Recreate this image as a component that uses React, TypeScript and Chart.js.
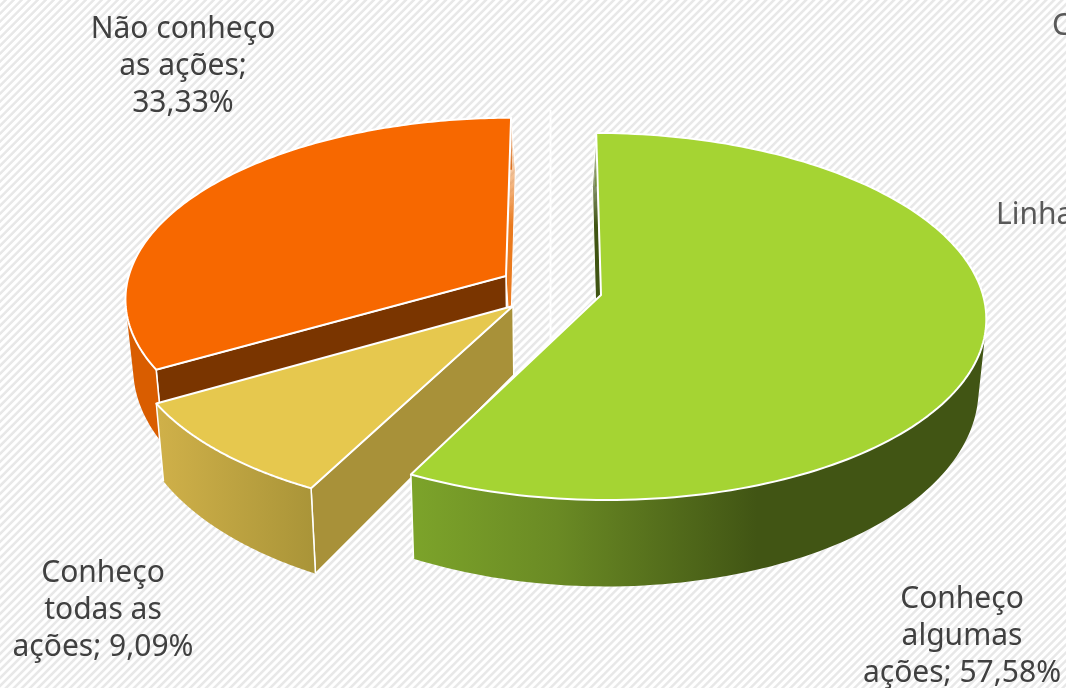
import React, { useEffect, useRef } from "react";
import { Chart, registerables, PieController } from "chart.js";

Chart.register(...registerables);

const categories = ["Conheço algumas ações", "Conheço todas as ações", "Não conheço as ações"];
const shares = [57.58, 9.09, 33.33];
const topColors = ["#a5d433", "#e6c84e", "#f76800"];
const labelLines = [
  ["Conheço", "algumas", "ações; 57,58%"],
  ["Conheço", "todas as", "ações; 9,09%"],
  ["Não conheço", "as ações;", "33,33%"],
];

const W = 1066;
const H = 688;
// projection of the pie plane on the screen
const CX = 555, CY = 295, RX = 382, RY = 181, PERSP = 0.117, SHRINK = 0.982;
const apexes = [[601, 295], [513, 306], [506, 276]];
const labelAt = [[962, 599], [103, 573], [183, 29]];
const FONT = '30px "Noto Sans"';

const project = (px: number, py: number) => {
  const w = 1 - PERSP * py;
  return [CX + (RX * px) / w, CY + (RY * py) / w];
};
const planeOf = (sx: number, sy: number) => {
  const t = (sy - CY) / RY;
  const py = t / (1 + PERSP * t);
  const w = 1 - PERSP * py;
  return [((sx - CX) * w) / RX, py];
};
const drop = (p: number[]) => {
  const d = 69 + (p[1] - 306) * 0.09;
  return [CX + (p[0] - CX) * SHRINK, p[1] + d];
};
const poly = (ctx: CanvasRenderingContext2D, pts: number[][]) => {
  ctx.beginPath();
  pts.forEach((p, i) => (i ? ctx.lineTo(p[0], p[1]) : ctx.moveTo(p[0], p[1])));
  ctx.closePath();
};

class Pie3DController extends PieController {
  static id = "pie3d";
  static defaults = {};
  draw() {
    const ctx = this.chart.ctx;
    const arcs = this.getMeta().data as any[];
    const order = [2, 1, 0];
    const stroke = (w: number) => {
      ctx.strokeStyle = "#ffffff";
      ctx.lineWidth = w;
      ctx.lineJoin = "round";
      ctx.stroke();
    };
    const seg = (p: number[], q: number[]) => {
      ctx.beginPath();
      ctx.moveTo(p[0], p[1]);
      ctx.lineTo(q[0], q[1]);
      stroke(1.5);
    };
    const fade = (from: string, to: string) => {
      const g = ctx.createLinearGradient(0, 145, 0, 225);
      g.addColorStop(0, from);
      g.addColorStop(1, to);
      return g;
    };
    for (const i of order) {
      const a = arcs[i];
      const start = a.startAngle as number;
      const end = a.endAngle as number;
      const o = planeOf(apexes[i][0], apexes[i][1]);
      const rim: number[][] = [];
      const N = 160;
      for (let k = 0; k <= N; k++) {
        const t = start + ((end - start) * k) / N;
        rim.push(project(o[0] + Math.cos(t), o[1] + Math.sin(t)));
      }
      const apex = project(o[0], o[1]);
      const first = rim[0];
      const last = rim[N];
      const lean = (p: number[], dx: number) => {
        const q = drop(p);
        return [q[0] + dx, q[1]];
      };
      // back cut faces
      if (i === 2) {
        poly(ctx, [apex, last, lean(last, 3.5), lean(apex, 3.5)]);
        ctx.fillStyle = fade("rgba(240,150,70,0.25)", "#ea7a1e");
        ctx.fill();
        stroke(1);
      } else if (i === 0) {
        poly(ctx, [apex, first, lean(first, -3), lean(apex, -3)]);
        ctx.fillStyle = fade("rgba(63,84,18,0.2)", "#3f5412");
        ctx.fill();
        stroke(1);
      }
      // front cut face
      if (i === 2) {
        poly(ctx, [apex, first, drop(first), drop(apex)]);
        ctx.fillStyle = "#7a3500";
        ctx.fill();
        stroke(1.5);
      } else if (i === 1) {
        poly(ctx, [apex, first, drop(first), drop(apex)]);
        ctx.fillStyle = "#a89139";
        ctx.fill();
        stroke(1.5);
      }
      // outer wall: one path of same-oriented quads, so no seams show
      let wall: any = "#d95d00";
      if (i === 1) {
        wall = ctx.createLinearGradient(160, 0, 315, 0);
        wall.addColorStop(0, "#cfb049");
        wall.addColorStop(1, "#a99438");
      } else if (i === 0) {
        wall = ctx.createLinearGradient(415, 0, 985, 0);
        wall.addColorStop(0, "#7ca32a");
        wall.addColorStop(0.25, "#6a8a24");
        wall.addColorStop(0.6, "#415514");
        wall.addColorStop(1, "#415514");
      }
      ctx.beginPath();
      for (let k = 0; k < N; k++) {
        const q = [rim[k], rim[k + 1], drop(rim[k + 1]), drop(rim[k])];
        let area = 0;
        q.forEach((p, n) => {
          const r = q[(n + 1) % 4];
          area += p[0] * r[1] - r[0] * p[1];
        });
        if (area < 0) q.reverse();
        q.forEach((p, n) => (n ? ctx.lineTo(p[0], p[1]) : ctx.moveTo(p[0], p[1])));
        ctx.closePath();
      }
      ctx.fillStyle = wall;
      ctx.fill("nonzero");
      if (first[1] > apex[1]) seg(first, drop(first));
      if (last[1] > apex[1]) seg(last, drop(last));
      // top
      poly(ctx, [apex, ...rim]);
      ctx.fillStyle = a.options.backgroundColor;
      ctx.fill();
      stroke(2);
    }
  }
}
Chart.register(Pie3DController as any);

const decor = {
  id: "decor",
  beforeDatasetsDraw(chart: any) {
    const ctx = chart.ctx as CanvasRenderingContext2D;
    ctx.save();
    ctx.strokeStyle = "#ffffff";
    ctx.lineWidth = 2;
    ctx.beginPath();
    ctx.moveTo(550.5, 110);
    ctx.lineTo(550.5, 345);
    ctx.stroke();
    ctx.restore();
  },
  afterDatasetsDraw(chart: any) {
    const ctx = chart.ctx as CanvasRenderingContext2D;
    ctx.save();
    ctx.font = FONT;
    ctx.fillStyle = "#404040";
    ctx.textAlign = "center";
    ctx.textBaseline = "middle";
    labelLines.forEach((lines, i) => {
      lines.forEach((l, j) => ctx.fillText(l, labelAt[i][0], labelAt[i][1] + j * 37));
    });
    ctx.textAlign = "left";
    ctx.fillStyle = "#595959";
    ctx.fillText("Linha", 996, 215);
    ctx.fillText("C", 1052, 26);
    ctx.restore();
  },
};

export default function App() {
  const ref = useRef<HTMLCanvasElement>(null);
  useEffect(() => {
    const chart = new Chart(ref.current as HTMLCanvasElement, {
      type: "pie3d" as any,
      data: {
        labels: categories,
        datasets: [{ data: shares, backgroundColor: topColors }],
      },
      options: {
        animation: false,
        responsive: false,
        events: [],
        plugins: { legend: { display: false }, tooltip: { enabled: false } },
      },
      plugins: [decor],
    } as any);
    return () => chart.destroy();
  }, []);
  return (
    <div
      style={{
        position: "fixed",
        left: 0,
        top: 0,
        width: W,
        height: H,
        background:
          "repeating-linear-gradient(135deg, #ffffff 0px, #ffffff 2.2px, #e8e8e8 3.2px, #e8e8e8 4.8px, #ffffff 5.66px)",
      }}
    >
      <canvas ref={ref} width={W} height={H} style={{ display: "block" }} />
    </div>
  );
}
